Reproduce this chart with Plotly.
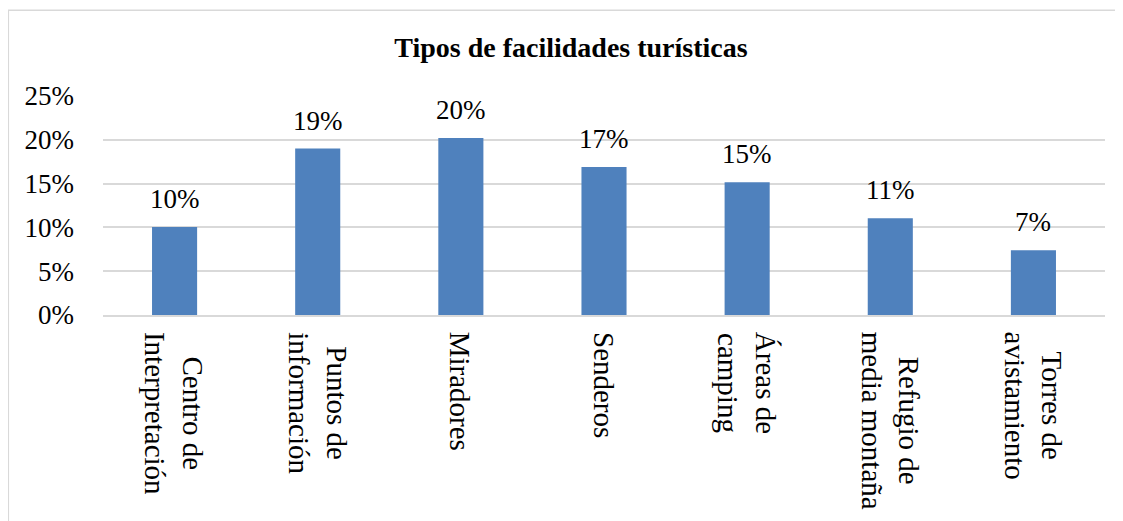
import plotly.graph_objects as go

# data
categorias = [
    "Centro de<br>Interpretación",
    "Puntos de<br>información",
    "Miradores",
    "Senderos",
    "Áreas de<br>camping",
    "Refugio de<br>media montaña",
    "Torres de<br>avistamiento",
]
porcentajes = [0.1005, 0.19, 0.202, 0.169, 0.1515, 0.1105, 0.074]
y_ticks = [0, 0.05, 0.10, 0.15, 0.20, 0.25]

fuente = "Liberation Serif, Times New Roman, serif"

fig = go.Figure()
fig.add_trace(go.Bar(
    x=categorias,
    y=porcentajes,
    marker_color="#4F81BD",
    marker_line_width=0,
))

# value labels, sitting a bit higher above the bars than plotly's default
for cat, val in zip(categorias, porcentajes):
    fig.add_annotation(x=cat, xref="x", y=val, yref="y",
                       text=f"{val:.0%}", showarrow=False,
                       xanchor="center", yanchor="bottom", yshift=11,
                       font=dict(family=fuente, size=27, color="black"))

# category labels, rotated and centred line by line (tick labels can't centre)
for cat in categorias:
    fig.add_annotation(x=cat, xref="x", y=0, yref="paper",
                       text=cat, textangle=90, align="center",
                       xanchor="center", yanchor="top", yshift=-15,
                       showarrow=False,
                       font=dict(family=fuente, size=29, color="black"))

# outer chart border (only top and left edges fall inside the picture)
fig.add_shape(type="rect", xref="paper", yref="paper",
              x0=-0.0945, x1=1.1, y0=-1.1, y1=1.391,
              line=dict(color="#D9D9D9", width=1.5), layer="below")

fig.update_layout(
    width=1123, height=521,
    margin=dict(l=95, r=26, t=88, b=214),
    paper_bgcolor="white", plot_bgcolor="white",
    bargap=0.685,
    showlegend=False,
    font=dict(family=fuente, size=27, color="black"),
    title=dict(text="<b>Tipos de facilidades turísticas</b>",
               font=dict(family=fuente, size=28, color="black"),
               x=0.5013, xref="container", xanchor="center",
               y=0.925, yref="container", yanchor="middle"),
)
fig.update_yaxes(range=[0, 0.25], tickvals=y_ticks, tickformat=".0%",
                 showgrid=True, gridcolor="#D9D9D9", gridwidth=1.5,
                 zeroline=False, showline=False, ticks="",
                 ticklabelstandoff=28,
                 tickfont=dict(family=fuente, size=27, color="black"))
fig.update_xaxes(showticklabels=False, showline=True, linecolor="#D9D9D9",
                 linewidth=1.5, ticks="")

fig.write_html("out.html")
